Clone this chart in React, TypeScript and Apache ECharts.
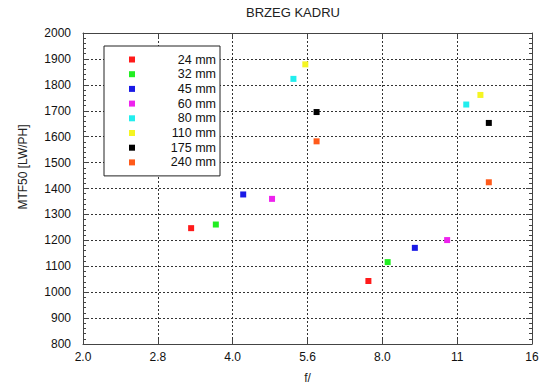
import React, { useEffect, useRef } from "react";
import * as echarts from "echarts";

const lensNames = ["24 mm", "32 mm", "45 mm", "60 mm", "80 mm", "110 mm", "175 mm", "240 mm"];
const lensColors = ["#ff1a1a", "#22ee22", "#1a1ae6", "#ee22ee", "#22eeee", "#f5f522", "#000000", "#ff5a1a"];
// aperture (f-number) at wide open and stopped down
const apertureOpen = [3.3, 3.7, 4.2, 4.8, 5.3, 5.6, 5.9, 5.9];
const apertureStopped = [7.5, 8.2, 9.3, 10.8, 11.8, 12.6, 13.1, 13.1];
const mtfOpen = [1247, 1261, 1377, 1360, 1823, 1879, 1695, 1582];
const mtfStopped = [1043, 1116, 1171, 1201, 1724, 1761, 1653, 1424];
const xTickLabels = ["2.0", "2.8", "4.0", "5.6", "8.0", "11", "16"];

const FONT = "'Liberation Sans', Arial, Helvetica, sans-serif";

export default function App() {
  const ref = useRef<HTMLDivElement>(null);
  useEffect(() => {
    if (!ref.current) return;
    const chart = echarts.init(ref.current, null, { renderer: "svg" });
    const fmtX = (v: number) => {
      const i = Math.round(2 * Math.log2(v)) - 2;
      return xTickLabels[i] ?? "";
    };
    const axisLine = { show: true, lineStyle: { color: "#444", width: 1 } };
    const gridLine = { show: true, lineStyle: { color: "#333", width: 1, type: [2, 2] as any } };
    const xBase = {
      type: "log" as const,
      logBase: Math.SQRT2,
      min: 2,
      max: 16,
      axisLine,
      axisTick: { show: true, inside: true, length: 5, lineStyle: { color: "#444" } },
    };
    const yBase = {
      type: "value" as const,
      min: 800,
      max: 2000,
      interval: 100,
      axisLine,
      axisTick: { show: true, inside: true, length: 6, lineStyle: { color: "#444" } },
      minorTick: { show: true, splitNumber: 5, length: 3, lineStyle: { color: "#444" } },
    };
    chart.setOption({
      animation: false,
      backgroundColor: "#fff",
      grid: { left: 83, right: 18, top: 33, bottom: 45 },
      graphic: [
        {
          type: "text",
          x: 293,
          y: 12,
          style: { text: "BRZEG KADRU", fill: "#222", font: `13px ${FONT}`, textAlign: "center", textVerticalAlign: "middle" },
        },
        {
          type: "text",
          x: 23,
          y: 167,
          rotation: Math.PI / 2,
          style: { text: "MTF50 [LW/PH]", fill: "#222", font: `12px ${FONT}`, textAlign: "center", textVerticalAlign: "middle" },
        },
      ],
      xAxis: [
        {
          ...xBase,
          position: "bottom",
          name: "f/",
          nameLocation: "middle",
          nameGap: 28,
          nameTextStyle: { color: "#222", fontSize: 12, fontFamily: FONT },
          axisLabel: { show: true, margin: 7, color: "#111", fontSize: 12, fontFamily: FONT, formatter: fmtX },
          splitLine: gridLine,
        },
        {
          ...xBase,
          position: "top",
          axisLabel: { show: false },
          splitLine: { show: false },
        },
      ],
      yAxis: [
        {
          ...yBase,
          position: "left",
          axisLabel: {
            show: true,
            margin: 12,
            color: "#111",
            fontSize: 12,
            fontFamily: FONT,
            formatter: (v: number) => String(v),
          },
          splitLine: gridLine,
        },
        {
          ...yBase,
          position: "right",
          axisLabel: { show: false },
          splitLine: { show: false },
        },
      ],
      legend: {
        orient: "vertical",
        left: 104,
        top: 46,
        padding: [7, 4, 7, 25],
        itemGap: 1.7,
        itemWidth: 6,
        itemHeight: 6,
        icon: "rect",
        backgroundColor: "#fff",
        borderColor: "#222",
        borderWidth: 1,
        data: lensNames,
        formatter: "{a|{name}}",
        textStyle: {
          rich: {
            a: { width: 76, align: "right", fontSize: 12.5, lineHeight: 12, color: "#111", fontFamily: FONT },
          },
        },
      },
      series: lensNames.map((name, i) => ({
        name,
        type: "scatter",
        symbol: "rect",
        symbolSize: 6,
        itemStyle: { color: lensColors[i], opacity: 1 },
        xAxisIndex: 0,
        yAxisIndex: 0,
        data: [
          [apertureOpen[i], mtfOpen[i]],
          [apertureStopped[i], mtfStopped[i]],
        ],
      })),
    });
    return () => chart.dispose();
  }, []);
  return <div ref={ref} style={{ position: "fixed", left: 0, top: 0, width: 550, height: 389 }} />;
}
